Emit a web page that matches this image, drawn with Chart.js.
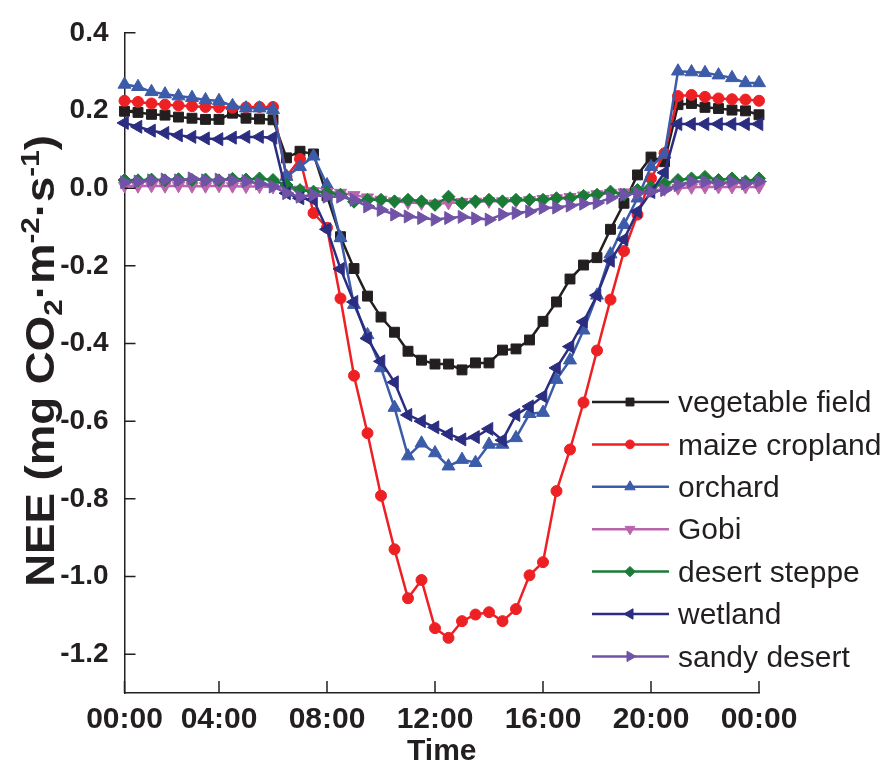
<!DOCTYPE html>
<html>
<head>
<meta charset="utf-8">
<script src="https://cdn.jsdelivr.net/npm/chart.js@4.4.1/dist/chart.umd.min.js"></script>
<style>
html,body{margin:0;padding:0;background:#ffffff;}
#wrap{width:887px;height:769px;}
</style>
</head>
<body>
<div id="wrap"><canvas id="c" width="887" height="769"></canvas></div>
<script>
// ---- data ----
const timeLabels = ["00:30","01:00","01:30","02:00","02:30","03:00","03:30","04:00","04:30","05:00","05:30","06:00",
  "06:30","07:00","07:30","08:00","08:30","09:00","09:30","10:00","10:30","11:00","11:30","12:00",
  "12:30","13:00","13:30","14:00","14:30","15:00","15:30","16:00","16:30","17:00","17:30","18:00",
  "18:30","19:00","19:30","20:00","20:30","21:00","21:30","22:00","22:30","23:00","23:30","24:00"];
const xTickIndices = [0,7,15,23,31,39,47];
const xTickLabels = ["00:00","04:00","08:00","12:00","16:00","20:00","00:00"];
const yTickValues = [0.4,0.2,0.0,-0.2,-0.4,-0.6,-0.8,-1.0,-1.2];

const seriesNames = ["vegetable field","maize cropland","orchard","Gobi","desert steppe","wetland","sandy desert"];

const vegetableField = [0.198,0.195,0.190,0.188,0.183,0.180,0.177,0.177,0.193,0.180,0.178,0.176,
  0.078,0.095,0.088,-0.020,-0.125,-0.207,-0.278,-0.332,-0.371,-0.420,-0.443,-0.453,
  -0.453,-0.468,-0.450,-0.450,-0.417,-0.414,-0.391,-0.343,-0.293,-0.234,-0.198,-0.179,
  -0.106,-0.039,0.034,0.080,0.068,0.215,0.218,0.208,0.205,0.201,0.199,0.189];
const maizeCropland = [0.225,0.222,0.218,0.215,0.213,0.211,0.209,0.208,0.207,0.208,0.209,0.209,
  0.030,0.075,-0.064,-0.102,-0.284,-0.483,-0.631,-0.792,-0.930,-1.056,-1.009,-1.133,
  -1.158,-1.115,-1.098,-1.092,-1.115,-1.084,-0.997,-0.963,-0.780,-0.673,-0.552,-0.418,
  -0.287,-0.162,-0.068,0.025,0.090,0.237,0.240,0.235,0.231,0.229,0.228,0.225];
const orchard = [0.267,0.261,0.248,0.242,0.237,0.233,0.227,0.225,0.212,0.206,0.206,0.202,
  0.030,0.055,0.082,0.008,-0.128,-0.300,-0.378,-0.463,-0.565,-0.690,-0.657,-0.682,
  -0.716,-0.699,-0.707,-0.660,-0.660,-0.643,-0.581,-0.578,-0.493,-0.443,-0.366,-0.276,
  -0.170,-0.094,-0.026,0.055,0.087,0.301,0.299,0.297,0.291,0.284,0.271,0.271];
const gobi = [0.006,0.005,0.006,0.005,0.006,0.005,0.005,0.006,0.005,0.004,0.004,0.003,
  0.000,-0.004,-0.008,-0.010,-0.012,-0.018,-0.024,-0.030,-0.034,-0.037,-0.039,-0.040,
  -0.038,-0.036,-0.035,-0.034,-0.034,-0.033,-0.031,-0.028,-0.026,-0.023,-0.019,-0.016,
  -0.013,-0.011,-0.008,-0.006,-0.003,0.000,0.002,0.003,0.003,0.003,0.003,0.003];
const desertSteppe = [0.021,0.020,0.022,0.020,0.023,0.021,0.022,0.020,0.024,0.022,0.025,0.021,
  0.008,-0.005,-0.009,-0.011,-0.017,-0.035,-0.030,-0.030,-0.034,-0.030,-0.034,-0.043,
  -0.022,-0.039,-0.034,-0.030,-0.034,-0.030,-0.030,-0.030,-0.026,-0.026,-0.020,-0.017,
  -0.009,-0.017,-0.005,0.003,0.012,0.021,0.025,0.029,0.021,0.025,0.017,0.025];
const wetland = [0.168,0.158,0.148,0.142,0.136,0.132,0.128,0.126,0.130,0.132,0.132,0.130,
  -0.013,-0.026,-0.030,-0.106,-0.208,-0.293,-0.387,-0.446,-0.500,-0.584,-0.600,-0.616,
  -0.633,-0.647,-0.641,-0.620,-0.649,-0.584,-0.562,-0.536,-0.463,-0.408,-0.344,-0.276,
  -0.187,-0.132,-0.060,-0.010,0.040,0.165,0.165,0.165,0.165,0.165,0.165,0.165];
const sandyDesert = [0.015,0.017,0.020,0.022,0.020,0.025,0.020,0.022,0.020,0.018,0.012,0.004,
  -0.013,-0.022,-0.017,-0.022,-0.022,-0.030,-0.047,-0.056,-0.068,-0.073,-0.077,-0.081,
  -0.077,-0.074,-0.078,-0.081,-0.068,-0.064,-0.060,-0.051,-0.050,-0.045,-0.040,-0.038,
  -0.025,-0.017,-0.013,-0.009,-0.005,0.008,0.017,0.017,0.012,0.017,0.012,0.017];

// ---- styles ----
const INK = '#231f20';
const FONT = '"Liberation Sans", Arial, sans-serif';
const styleList = [
  {color:'#231f20', pointStyle:'rect', rotation:0, radius:7},
  {color:'#ed2024', pointStyle:'circle', rotation:0, radius:5.5},
  {color:'#3c5ba9', pointStyle:'triangle', rotation:0, radius:7.5},
  {color:'#b964ad', pointStyle:'triangle', rotation:180, radius:7},
  {color:'#1a7b37', pointStyle:'rectRot', rotation:0, radius:6.5},
  {color:'#2b2d80', pointStyle:'triangle', rotation:270, radius:7.5},
  {color:'#7053a6', pointStyle:'triangle', rotation:90, radius:7.5}
];
const seriesData = [vegetableField, maizeCropland, orchard, gobi, desertSteppe, wetland, sandyDesert];

const datasets = seriesData.map((d, i) => ({
  label: seriesNames[i],
  data: d,
  order: -i,
  borderColor: styleList[i].color,
  backgroundColor: styleList[i].color,
  pointBackgroundColor: styleList[i].color,
  pointBorderColor: styleList[i].color,
  pointBorderWidth: 1,
  pointStyle: styleList[i].pointStyle,
  pointRotation: styleList[i].rotation,
  pointRadius: styleList[i].radius,
  borderWidth: 2.5,
  tension: 0,
  fill: false,
  clip: false
}));

// y-axis title pieces: [text, kind] kind: n normal, sub, sup
const yTitleParts = [["NEE (mg CO","n"],["2","sub"],["\u00b7m","n"],["-2","sup"],["\u00b7s","n"],["-1","sup"],[")","n"]];

const innerTicksAndLegend = {
  id: 'innerTicksAndLegend',
  afterDraw(chart) {
    const {ctx} = chart;
    ctx.save();
    // y title with real sub/superscripts
    const F = 40, small = 26, stretch = 1.14;
    const pieceFont = k => 'bold ' + (k === 'n' ? F : small) + 'px ' + FONT;
    let total = 0;
    yTitleParts.forEach(p => { ctx.font = pieceFont(p[1]); total += ctx.measureText(p[0]).width; });
    ctx.translate(40, 361);
    ctx.rotate(-Math.PI / 2);
    ctx.scale(stretch, 1);
    ctx.fillStyle = INK;
    ctx.textBaseline = 'alphabetic';
    ctx.textAlign = 'left';
    let cx = -total / 2;
    const base = F * 0.36;
    yTitleParts.forEach(p => {
      ctx.font = pieceFont(p[1]);
      const off = p[1] === 'sub' ? F * 0.2 : (p[1] === 'sup' ? -F * 0.38 : 0);
      ctx.fillText(p[0], cx, base + off);
      cx += ctx.measureText(p[0]).width;
    });
    ctx.restore();
  },
  afterDatasetsDraw(chart) {
    const {ctx, chartArea: a, scales: {x, y}} = chart;
    ctx.save();
    ctx.strokeStyle = INK;
    ctx.lineWidth = 1.5;
    ctx.beginPath();
    yTickValues.forEach(v => {
      const py = y.getPixelForValue(v);
      ctx.moveTo(a.left, py);
      ctx.lineTo(a.left + 11, py);
    });
    xTickIndices.forEach(i => {
      const px = x.getPixelForValue(i);
      ctx.moveTo(px, a.bottom);
      ctx.lineTo(px, a.bottom - 12);
    });
    ctx.stroke();

    // legend inside plot
    const lx0 = 592, lx1 = 669, mx = 630, tx = 678, ly0 = 402, dy = 42.4;
    chart.data.datasets.forEach((ds, i) => {
      const yy = ly0 + i * dy;
      ctx.strokeStyle = ds.borderColor;
      ctx.lineWidth = 2.5;
      ctx.beginPath();
      ctx.moveTo(lx0, yy);
      ctx.lineTo(lx1, yy);
      ctx.stroke();
      ctx.fillStyle = ds.borderColor;
      ctx.strokeStyle = ds.borderColor;
      ctx.lineWidth = 1;
      Chart.helpers.drawPoint(ctx, {pointStyle: ds.pointStyle, rotation: ds.pointRotation, radius: ds.pointRadius * 0.8, borderWidth: 1}, mx, yy);
      ctx.fillStyle = INK;
      ctx.font = '30px ' + FONT;
      ctx.textBaseline = 'middle';
      ctx.textAlign = 'left';
      ctx.fillText(ds.label, tx, yy + 2);
    });
    ctx.restore();
  }
};

new Chart(document.getElementById('c'), {
  type: 'line',
  data: { labels: timeLabels, datasets: datasets },
  options: {
    responsive: false,
    animation: false,
    devicePixelRatio: 1,
    layout: { padding: { top: 25, right: 128, bottom: 0, left: 0 } },
    plugins: { legend: { display: false }, tooltip: { enabled: false } },
    scales: {
      x: {
        type: 'category',
        offset: false,
        grid: { display: false, drawTicks: false },
        border: { display: true, color: INK, width: 1.5 },
        afterBuildTicks: s => { s.ticks = xTickIndices.map(v => ({ value: v })); },
        afterFit: s => { s.height = 76; },
        ticks: {
          autoSkip: false, maxRotation: 0, minRotation: 0, padding: 9, color: INK,
          font: { family: FONT, size: 30, weight: 'bold' },
          callback: (v) => { const k = xTickIndices.indexOf(v); return k >= 0 ? xTickLabels[k] : ''; }
        },
        title: {
          display: true, text: 'Time', color: INK,
          font: { family: FONT, size: 30, weight: 'bold' },
          padding: { top: 0, bottom: -1 }
        }
      },
      y: {
        min: -1.3, max: 0.4,
        grid: { display: false, drawTicks: false },
        border: { display: true, color: INK, width: 1.5 },
        afterBuildTicks: s => { s.ticks = yTickValues.map(v => ({ value: v })); },
        afterFit: s => { s.width = 124.5; },
        ticks: {
          padding: 16, color: INK,
          font: { family: FONT, size: 28, weight: 'bold' },
          callback: v => Number(v).toFixed(1)
        },
        title: { display: false }
      }
    }
  },
  plugins: [innerTicksAndLegend]
});
</script>
</body>
</html>
